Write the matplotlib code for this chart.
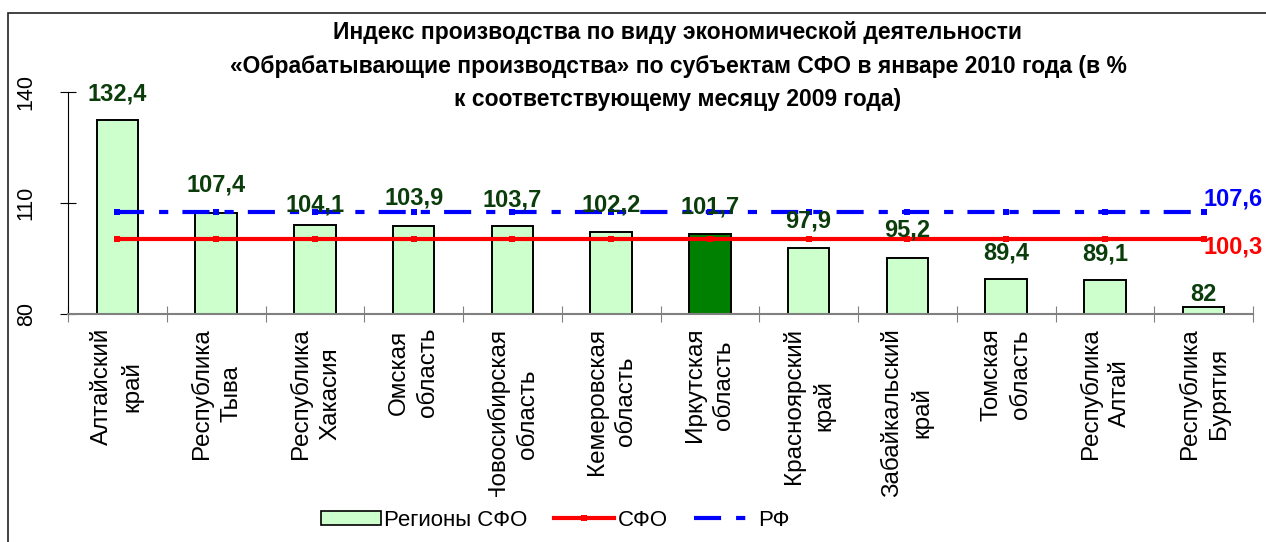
import matplotlib
matplotlib.use("Agg")
import matplotlib.pyplot as plt
from matplotlib.patches import Rectangle, Patch
from matplotlib.lines import Line2D
from matplotlib.transforms import Bbox, TransformedBbox, offset_copy

plt.rcParams['font.family'] = ['Liberation Sans', 'DejaVu Sans']

# data
regions = ["Алтайский\nкрай", "Республика\nТыва", "Республика\nХакасия", "Омская\nобласть",
           "Новосибирская\nобласть", "Кемеровская\nобласть", "Иркутская\nобласть",
           "Красноярский\nкрай", "Забайкальский\nкрай", "Томская\nобласть",
           "Республика\nАлтай", "Республика\nБурятия"]
values = [132.4, 107.4, 104.1, 103.9, 103.7, 102.2, 101.7, 97.9, 95.2, 89.4, 89.1, 82]
value_labels = ["132,4", "107,4", "104,1", "103,9", "103,7", "102,2", "101,7",
                "97,9", "95,2", "89,4", "89,1", "82"]
sfo_value = 100.3
rf_value = 107.6
sfo_label = "100,3"
rf_label = "107,6"
highlight = "Иркутская\nобласть"
yticks = [80, 110, 140]

# label offsets above bar top (points), hand-placed like in the original
label_offsets = [19, 20, 14, 20, 19, 19, 19, 19, 20, 19, 19, 9]

light_green = "#CCFFCC"
dark_green = "#008000"
label_green = "#0B3D0B"

fig = plt.figure(figsize=(12.66, 5.42), dpi=100)
ax = fig.add_axes([68 / 1266, 1 - 314 / 542, (1253 - 68) / 1266, (314 - 92) / 542])

x = list(range(len(regions)))
colors = [dark_green if r == highlight else light_green for r in regions]
ax.bar(x, [v - 80 for v in values], bottom=80, width=0.42, color=colors,
       edgecolor="black", linewidth=1.4, zorder=2)

ax.plot(x, [sfo_value] * len(x), color="#FF0000", lw=3, marker="_", ms=4, mew=4.3,
        solid_capstyle="butt", zorder=3)
ax.plot(x, [rf_value] * len(x), color="#0000FF", lw=3, marker="_", ms=4, mew=4.3,
        dashes=(6.5, 3.6, 2.2, 3.4), dash_capstyle="butt", zorder=3)

for xi, v, lab, off in zip(x, values, value_labels, label_offsets):
    ax.annotate(lab, (xi, v), xytext=(0, off), textcoords="offset points",
                ha="center", va="center", fontsize=17, fontweight="bold",
                color=label_green, zorder=4)

ax.annotate(rf_label, (x[-1], rf_value), xytext=(0, 9), textcoords="offset points",
            ha="left", va="center", fontsize=17, fontweight="bold", color="#0000FF",
            annotation_clip=False)
ax.annotate(sfo_label, (x[-1], sfo_value), xytext=(0, -6), textcoords="offset points",
            ha="left", va="center", fontsize=17, fontweight="bold", color="#FF0000",
            annotation_clip=False)

ax.set_xlim(-0.5, len(x) - 0.5)
ax.set_ylim(80, 140)
ax.set_yticks(yticks)
ax.set_yticklabels([str(t) for t in yticks], rotation=90, va="center", fontsize=15.5)
ax.tick_params(axis="y", direction="inout", length=11, width=0.8, pad=17, color="black")

# category boundaries as minor ticks, labels drawn as clipped text
ax.set_xticks([i - 0.5 for i in range(len(x) + 1)], minor=True)
ax.set_xticks([])
ax.tick_params(axis="x", which="minor", direction="inout", length=11, width=0.8, color="#808080")

clip = TransformedBbox(Bbox([[0, 0.083], [1, 1]]), fig.transFigure)
lab_trans = offset_copy(ax.get_xaxis_transform(), fig=fig, y=-10, units="points")
for xi, r in zip(x, regions):
    t = ax.text(xi, 0, r, transform=lab_trans, rotation=90, ha="center", va="top",
                multialignment="center", fontsize=17.5, linespacing=1.42, clip_on=True)
    t.set_clip_box(clip)

for s in ["top", "right"]:
    ax.spines[s].set_visible(False)
ax.spines["left"].set_color("black")
ax.spines["bottom"].set_color("#808080")
ax.spines["bottom"].set_linewidth(1.5)

fig.text(0.5355, 1 - 66 / 542,
         "Индекс производства по виду экономической деятельности\n"
         "«Обрабатывающие производства» по субъектам СФО в январе 2010 года (в %\n"
         "к соответствующему месяцу 2009 года)",
         ha="center", va="center", fontsize=16.5, fontweight="bold", linespacing=1.58)

handles = [Patch(facecolor=light_green, edgecolor="black", linewidth=1.2),
           Line2D([], [], color="#FF0000", lw=3, marker="_", ms=4, mew=4.3),
           Line2D([], [], color="#0000FF", lw=3, dashes=(6.5, 3.6, 2.2, 3.4))]
fig.legend(handles, ["Регионы СФО", "СФО", "РФ"], loc="center", ncol=3,
           bbox_to_anchor=(555 / 1266, 1 - 520 / 542), frameon=False, fontsize=16,
           handlelength=2.7, handleheight=0.6, handletextpad=0.15, columnspacing=1.2)

fig.patches.append(Rectangle((8 / 1266, -0.05), 1.1, 1 - 13 / 542 + 0.05,
                             transform=fig.transFigure, fill=False,
                             edgecolor="#222222", linewidth=1.2))

fig.savefig("out.png", dpi=100)
